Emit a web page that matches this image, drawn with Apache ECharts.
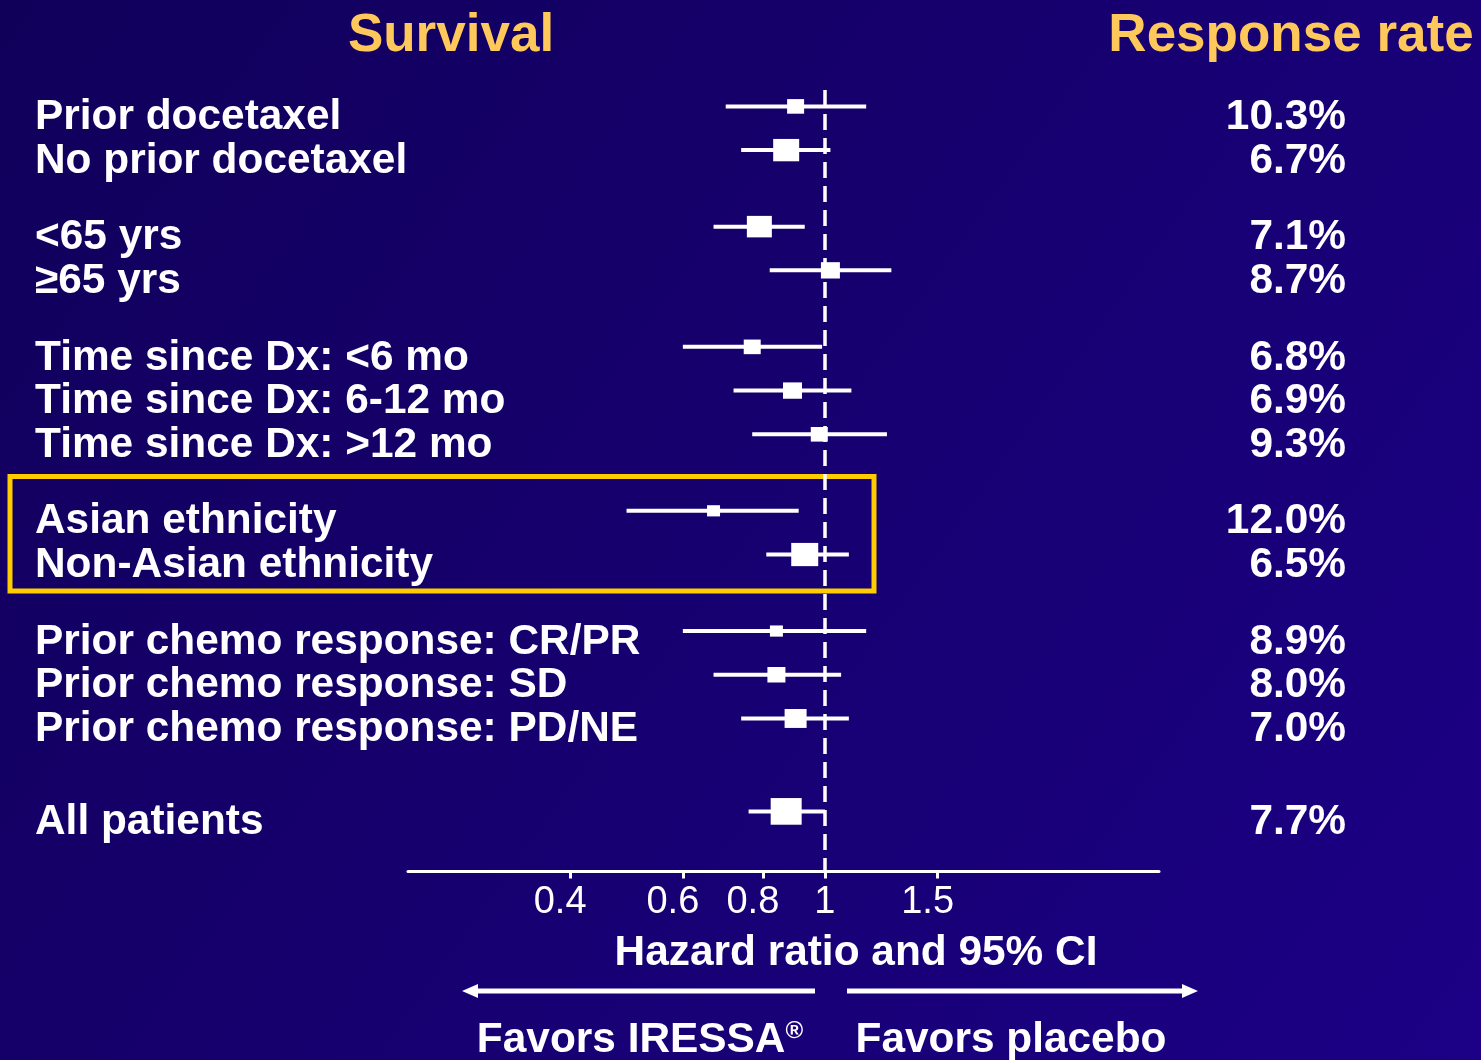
<!DOCTYPE html>
<html><head><meta charset="utf-8">
<script src="https://cdn.jsdelivr.net/npm/echarts@6/dist/echarts.min.js"></script>
<style>html,body{margin:0;padding:0;background:#130060;}#c{width:1481px;height:1060px;}</style>
</head><body><div id="c"></div>
<script>
// ---- data ----
const categories = ['Prior docetaxel', 'No prior docetaxel', '<65 yrs', '\u226565 yrs',
  'Time since Dx: <6 mo', 'Time since Dx: 6-12 mo', 'Time since Dx: >12 mo',
  'Asian ethnicity', 'Non-Asian ethnicity',
  'Prior chemo response: CR/PR', 'Prior chemo response: SD', 'Prior chemo response: PD/NE',
  'All patients'];
const hazardRatio = [0.90, 0.87, 0.79, 1.02, 0.77, 0.89, 0.98, 0.67, 0.93, 0.84, 0.84, 0.90, 0.87];
const ciLower     = [0.70, 0.74, 0.67, 0.82, 0.60, 0.72, 0.77, 0.49, 0.81, 0.60, 0.67, 0.74, 0.76];
const ciUpper     = [1.16, 1.02, 0.93, 1.27, 0.99, 1.10, 1.25, 0.91, 1.09, 1.16, 1.06, 1.09, 1.00];
const markerWeight = [17, 26, 25, 19, 17, 19, 17, 13, 27, 13, 18, 22, 31];
const responseRate = ['10.3%', '6.7%', '7.1%', '8.7%', '6.8%', '6.9%', '9.3%', '12.0%', '6.5%', '8.9%', '8.0%', '7.0%', '7.7%'];
const xTicks = [0.4, 0.6, 0.8, 1, 1.5];

// ---- layout (row slots on the y axis) ----
const rowSlot = [0, 4, 11, 15, 22, 26, 30, 37, 41, 48, 52, 56, 64.5];

const FONT = "'Liberation Sans', Arial, Helvetica, sans-serif";
const WHITE = '#ffffff';
const GOLD = '#FFC85A';
const LBL = 42.4;

const seriesData = categories.map((c, i) => [hazardRatio[i], rowSlot[i], ciLower[i], ciUpper[i], markerWeight[i]]);
const slotIndex = v => rowSlot.findIndex(s => Math.abs(s - v) < 1e-6);
const rowRich = {r: {fontSize: LBL, fontWeight: 'bold', fontFamily: FONT, color: WHITE, padding: [22, 0, 0, 0]}};

const chart = echarts.init(document.getElementById('c'));
chart.setOption({
  backgroundColor: {
    type: 'linear', x: 0, y: 0, x2: 1, y2: 1,
    colorStops: [{offset: 0, color: '#11005A'}, {offset: 1, color: '#1C0086'}]
  },
  animation: false,
  title: [
    {text: 'Survival', left: 446, top: 31, textAlign: 'center', textVerticalAlign: 'middle',
     textStyle: {color: GOLD, fontSize: 53, fontWeight: 'bold', fontFamily: FONT}},
    {text: 'Response rate', left: 1286, top: 31, textAlign: 'center', textVerticalAlign: 'middle',
     textStyle: {color: GOLD, fontSize: 53, fontWeight: 'bold', fontFamily: FONT}}
  ],
  grid: {left: 408, right: 1481 - 1159, top: 90, height: 781.5, containLabel: false},
  xAxis: {
    type: 'log', logBase: 10, min: 0.2233, max: 3.325,
    axisLine: {show: true, onZero: false, lineStyle: {color: WHITE, width: 3}},
    axisTick: {show: true, customValues: xTicks, length: 7, lineStyle: {color: WHITE, width: 3}},
    axisLabel: {
      customValues: xTicks, color: WHITE, fontSize: 38, fontFamily: FONT, margin: 12,
      formatter: v => (Math.abs(v - 1) < 1e-6 ? '{b|1}' : '{a|' + v + '}'),
      rich: {a: {fontSize: 38, fontFamily: FONT, color: WHITE, padding: [0, 20, 0, 0]},
             b: {fontSize: 38, fontFamily: FONT, color: WHITE}}
    },
    splitLine: {show: false},
    name: 'Hazard ratio and 95% CI', nameLocation: 'middle', nameGap: 61,
    nameTextStyle: {color: WHITE, fontSize: 42.4, fontWeight: 'bold', fontFamily: FONT, padding: [0, 0, 0, 145]}
  },
  yAxis: [
    {
      type: 'value', inverse: true, min: -1.5, max: 70, position: 'left',
      axisLine: {show: false}, axisTick: {show: false}, splitLine: {show: false},
      axisLabel: {
        customValues: rowSlot, formatter: v => '{r|' + (categories[slotIndex(v)] || '') + '}',
        align: 'left', margin: 373, color: WHITE, fontSize: LBL, fontWeight: 'bold', fontFamily: FONT,
        rich: rowRich
      }
    },
    {
      type: 'value', inverse: true, min: -1.5, max: 70, position: 'right',
      axisLine: {show: false}, axisTick: {show: false}, splitLine: {show: false},
      axisLabel: {
        customValues: rowSlot, formatter: v => '{r|' + (responseRate[slotIndex(v)] || '') + '}',
        align: 'right', margin: 187, color: WHITE, fontSize: LBL, fontWeight: 'bold', fontFamily: FONT,
        rich: rowRich
      }
    }
  ],
  series: [{
    type: 'custom',
    xAxisIndex: 0, yAxisIndex: 0,
    data: seriesData,
    encode: {x: [0, 2, 3], y: 1},
    renderItem: (params, api) => {
      const hr = api.value(0), slot = api.value(1), lo = api.value(2), hi = api.value(3), w = api.value(4);
      const p = api.coord([hr, slot]);
      const a = api.coord([lo, slot]);
      const b = api.coord([hi, slot]);
      const h = w * 0.86;
      return {
        type: 'group',
        children: [
          {type: 'line', shape: {x1: a[0], y1: a[1], x2: b[0], y2: b[1]},
           style: {stroke: WHITE, lineWidth: 4}},
          {type: 'rect', shape: {x: p[0] - w / 2, y: p[1] - h / 2, width: w, height: h},
           style: {fill: WHITE}}
        ]
      };
    },
    markLine: {
      silent: true, symbol: 'none', label: {show: false},
      lineStyle: {color: WHITE, width: 3.5, type: [16, 8]},
      data: [{xAxis: 1}]
    },
    z: 3
  }],
  graphic: [
    {type: 'rect', shape: {x: 10, y: 476.5, width: 864, height: 114.5},
     style: {fill: 'none', stroke: '#FFCC00', lineWidth: 5}, z: 1},
    {type: 'line', shape: {x1: 815, y1: 991, x2: 472, y2: 991}, style: {stroke: WHITE, lineWidth: 5}},
    {type: 'polygon', shape: {points: [[462, 991], [478, 984], [478, 998]]}, style: {fill: WHITE}},
    {type: 'line', shape: {x1: 847, y1: 991, x2: 1188, y2: 991}, style: {stroke: WHITE, lineWidth: 5}},
    {type: 'polygon', shape: {points: [[1198, 991], [1182, 984], [1182, 998]]}, style: {fill: WHITE}},
    {type: 'text', x: 640, y: 1040,
     style: {text: '{a|Favors IRESSA}{s|\u00ae}', align: 'center', verticalAlign: 'middle',
       rich: {a: {fontSize: 42.4, fontWeight: 'bold', fontFamily: FONT, fill: WHITE},
              s: {fontSize: 24, fontWeight: 'bold', fontFamily: FONT, fill: WHITE, verticalAlign: 'top', padding: [0, 0, 14, 0]}}}},
    {type: 'text', x: 1011, y: 1040,
     style: {text: 'Favors placebo', align: 'center', verticalAlign: 'middle',
       fontSize: 42.4, fontWeight: 'bold', fontFamily: FONT, fill: WHITE}}
  ]
});
</script>
</body></html>
